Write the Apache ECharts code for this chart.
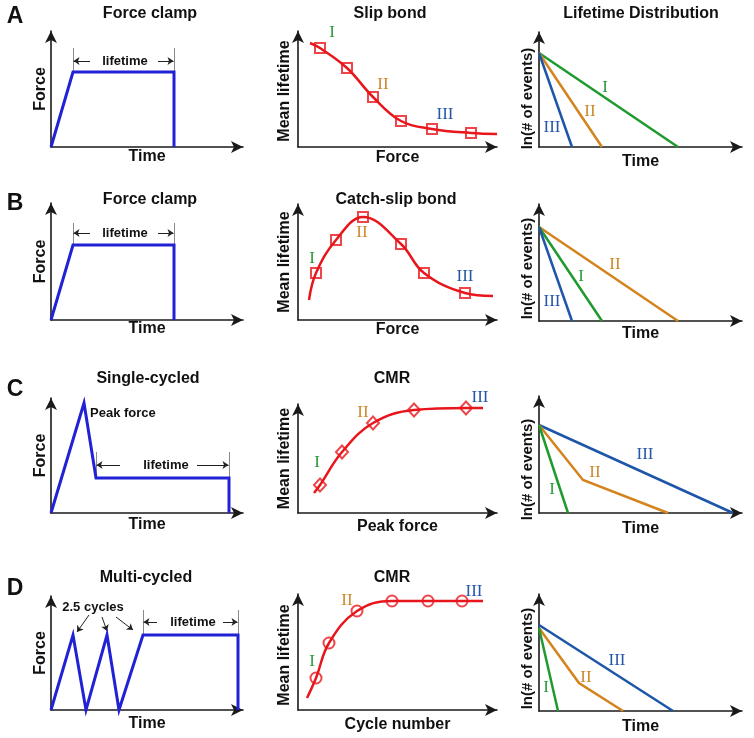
<!DOCTYPE html>
<html><head><meta charset="utf-8">
<script src="https://cdn.jsdelivr.net/npm/echarts@6/dist/echarts.min.js"></script>
<style>html,body{margin:0;padding:0;background:#fff}#c{width:754px;height:738px}</style>
</head><body><div id="c"></div>
<script>
// ================= DATA (schematic units) =================
// Column 1: loading protocols (time, force)
const clampTrace = [[0,0],[22,75],[123,75],[123,0]];
const singleCycleTrace = [[0,0],[33,110],[45,35],[178,35],[178,0]];
const multiCycleTrace = [[0,0],[22,75],[35,0],[56,75],[68,0],[92,75],[187,75],[187,0]];

// lifetime dimension marks per protocol: x of the two ends, plateau level, top of ticks, arrow level
const clampLifeEnds = [22, 123];
const clampLifeLevelsA = [75, 99, 86];
const clampLifeLevelsB = [75, 97, 87];
const clampLifeArrowsX = [[39, 22.5], [107, 122.5]];
const clampLifeTextX = 74;
const singleLifeEnds = [45, 178];
const singleLifeLevels = [35, 61, 48];
const singleLifeArrowsX = [[69, 45.5], [146, 177.5]];
const singleLifeTextX = 115;
const multiLifeEnds = [92, 187];
const multiLifeLevels = [75, 100, 88];
const multiLifeArrowsX = [[106, 92.5], [172, 186.5]];
const multiLifeTextX = 142;
const peakForceLabel = [39, 100, 'Peak force'];
const cyclesLabel = [42, 103, '2.5 cycles'];
const cyclesArrows = [[[38,95],[26,78]], [[51,93],[56,79]], [[65,93],[82,80]]];

// Column 2: mean lifetime curves and measured points
const slipCurve = [[12,104],[22,99],[49,79],[75,50],[103,26],[134,18],[173,14],[199,13]];
const slipMarkers = [[22,99],[49,79],[75,50],[103,26],[134,18],[173,14]];
const catchSlipCurve = [[11,20],[18,47],[38,80],[65,103],[103,76],[126,47],[167,27],[195,24]];
const catchSlipMarkers = [[18,47],[38,80],[65,103],[103,76],[126,47],[167,27]];
const cmrPeakCurve = [[16,20],[22,28],[44,61],[75,90],[116,103],[168,105],[185,105]];
const cmrPeakMarkers = [[22,28],[44,61],[75,90],[116,103],[168,105]];
const cmrCycleCurve = [[9,12],[18,32],[31,67],[59,99],[94,109],[130,109],[164,109],[185,109]];
const cmrCycleMarkers = [[18,32],[31,67],[59,99],[94,109],[130,109],[164,109]];
const romanA2 = [[34,114,'I'],[85,62,'II'],[147,32,'III']];
const romanB2 = [[14,61,'I'],[64,87,'II'],[167,43,'III']];
const romanC2 = [[19,50,'I'],[65,100,'II'],[182,115,'III']];
const romanD2 = [[14,48,'I'],[49,109,'II'],[176,118,'III']];

// Column 3: lifetime distributions (time, ln # events)
const distA_I = [[0,94],[139,0]];
const distA_II = [[0,94],[63,0]];
const distA_III = [[0,94],[33,0]];
const distB_I = [[0,94],[63,0]];
const distB_II = [[0,94],[139,0]];
const distB_III = [[0,94],[33,0]];
const distC_I = [[0,88],[29,0]];
const distC_II = [[0,88],[44,33],[129,0]];
const distC_III = [[0,88],[194,0]];
const distD_I = [[0,83],[19,0]];
const distD_II = [[0,83],[40,28],[84,0]];
const distD_III = [[0,86],[134,0]];
const romanA3 = [[66,59,'I'],[51,35,'II'],[13,19,'III']];
const romanB3 = [[42,44,'I'],[76,56,'II'],[13,19,'III']];
const romanC3 = [[13,23,'I'],[56,40,'II'],[106,58,'III']];
const romanD3 = [[7,23,'I'],[47,33,'II'],[78,50,'III']];

const xNames = ['Time','Force','Time','Time','Force','Time','Time','Peak force','Time','Time','Cycle number','Time'];
const yNames = ['Force','Mean lifetime','ln(# of events)','Force','Mean lifetime','ln(# of events)',
                'Force','Mean lifetime','ln(# of events)','Force','Mean lifetime','ln(# of events)'];

// ================= LAYOUT / STYLE =================
const P = [ // [originX, originY, arrowTipX, arrowTipY]
  [51,147,249,25],[298,147,503,25],[539,147,748,26],
  [51,320,249,197],[298,320,503,198],[539,321,748,198],
  [51,513,249,392],[298,513,503,398],[539,513,748,390],
  [51,710,249,590],[298,710,503,588],[539,711,748,588]];
const xGaps = [10,11,15,9,10,13,12,14,16,14,15,16];
const yGaps = [10,13,11,10,13,11,10,13,11,10,13,11];
const yShift = [0,2,9,0,0,6,0,0,15,0,3,6];
const AR = 6;
const SANS = '"Liberation Sans", Arial, sans-serif';
const SERIF = '"Liberation Serif", "Times New Roman", serif';
const C = {trace:'#2121d6', red:'#e8161c', green:'#1f9a2e', orange:'#d4831d', blue:'#1d56a8',
           lgreen:'#2a9a3a', lorange:'#cc8a2a', lblue:'#2758a5', ink:'#111'};
const romanColor = {I:C.lgreen, II:C.lorange, III:C.lblue};

const grids = [], xAxes = [], yAxes = [];
P.forEach((p, i) => {
  const [ox, oy, tx, ty] = p;
  const w = tx - ox - AR, h = oy - ty - AR;
  grids.push({left: ox, top: ty + AR, width: w, height: h});
  const axisLine = {show: true, onZero: false, symbol: ['none','arrow'], symbolSize: [9,12],
                    lineStyle: {color: '#1a1a1a', width: 1.6}};
  const base = {fontFamily: SANS, fontWeight: 'bold', color: C.ink, align: 'center', verticalAlign: 'middle'};
  xAxes.push({gridIndex: i, type: 'value', min: 0, max: w, axisLine, axisTick: {show:false},
    axisLabel: {show:false}, splitLine: {show:false}, name: xNames[i], nameLocation: 'middle',
    nameGap: xGaps[i], nameTextStyle: Object.assign({fontSize: 16}, base)});
  yAxes.push({gridIndex: i, type: 'value', min: 0, max: h, axisLine, axisTick: {show:false},
    axisLabel: {show:false}, splitLine: {show:false}, name: yNames[i], nameLocation: 'middle',
    nameGap: yGaps[i], nameTextStyle: Object.assign({fontSize: i % 3 === 2 ? 15 : 16,
      padding: [0, 2 * yShift[i], 0, 0]}, base)});
});

const series = [];
function line(i, data, color, width, smooth) {
  series.push({type: 'line', xAxisIndex: i, yAxisIndex: i, data, symbol: 'none', silent: true,
    smooth: smooth || false, clip: false,
    lineStyle: {color, width, join: 'miter'}, z: 3});
}
function segs(i, list, color, width, arrow) {
  series.push({type: 'lines', coordinateSystem: 'cartesian2d', xAxisIndex: i, yAxisIndex: i, silent: true,
    data: list.map(c => ({coords: c})), symbol: arrow ? ['none','arrow'] : 'none', symbolSize: 6,
    lineStyle: {color, width, opacity: 1}, z: 2});
}
function texts(i, items, opts) {
  series.push({type: 'scatter', xAxisIndex: i, yAxisIndex: i, silent: true, clip: false, symbolSize: 1,
    itemStyle: {color: 'rgba(0,0,0,0)'},
    data: items.map(d => ({value: [d[0], d[1]], name: d[2],
      label: opts.roman ? {color: romanColor[d[2]]} : {}})),
    label: {show: true, position: 'inside', formatter: '{b}', color: opts.color || C.ink, opacity: 1,
      textBorderWidth: 0, fontFamily: opts.family || SANS, fontSize: opts.size || 13,
      fontWeight: opts.weight || 'normal', align: opts.align || 'center', verticalAlign: 'middle'}, z: 6});
}
function markers(i, data, symbol, size) {
  series.push({type: 'scatter', xAxisIndex: i, yAxisIndex: i, silent: true, clip: false, data, symbol,
    symbolSize: size, itemStyle: {color: 'rgba(255,255,255,0)', borderColor: C.red, borderWidth: 2}, z: 5});
}
function lifetimeDim(i, ends, levels, arrowsX, textX) {
  const [plateau, top, ay] = levels;
  segs(i, [[[ends[0], plateau], [ends[0], top]], [[ends[1], plateau], [ends[1], top]]], '#8a8a8a', 1, false);
  segs(i, arrowsX.map(a => [[a[0], ay], [a[1], ay]]), '#222', 1, true);
  texts(i, [[textX, ay, 'lifetime']], {weight: 'bold', size: 13});
}

// Row A
line(0, clampTrace, C.trace, 3);
lifetimeDim(0, clampLifeEnds, clampLifeLevelsA, clampLifeArrowsX, clampLifeTextX);
line(1, slipCurve, C.red, 2.5, 0.4); markers(1, slipMarkers, 'rect', 10);
texts(1, romanA2, {roman: true, family: SERIF, size: 17});
line(2, distA_I, C.green, 2.5); line(2, distA_II, C.orange, 2.5); line(2, distA_III, C.blue, 2.5);
texts(2, romanA3, {roman: true, family: SERIF, size: 17});
// Row B
line(3, clampTrace, C.trace, 3);
lifetimeDim(3, clampLifeEnds, clampLifeLevelsB, clampLifeArrowsX, clampLifeTextX);
line(4, catchSlipCurve, C.red, 2.5, 0.4); markers(4, catchSlipMarkers, 'rect', 10);
texts(4, romanB2, {roman: true, family: SERIF, size: 17});
line(5, distB_II, C.orange, 2.5); line(5, distB_I, C.green, 2.5); line(5, distB_III, C.blue, 2.5);
texts(5, romanB3, {roman: true, family: SERIF, size: 17});
// Row C
line(6, singleCycleTrace, C.trace, 3);
lifetimeDim(6, singleLifeEnds, singleLifeLevels, singleLifeArrowsX, singleLifeTextX);
texts(6, [peakForceLabel], {weight: 'bold', size: 13, align: 'left'});
line(7, cmrPeakCurve, C.red, 2.5, 0.4); markers(7, cmrPeakMarkers, 'diamond', [12,13]);
texts(7, romanC2, {roman: true, family: SERIF, size: 17});
line(8, distC_III, C.blue, 2.5); line(8, distC_II, C.orange, 2.5); line(8, distC_I, C.green, 2.5);
texts(8, romanC3, {roman: true, family: SERIF, size: 17});
// Row D
line(9, multiCycleTrace, C.trace, 3);
lifetimeDim(9, multiLifeEnds, multiLifeLevels, multiLifeArrowsX, multiLifeTextX);
texts(9, [cyclesLabel], {weight: 'bold', size: 13});
segs(9, cyclesArrows, '#222', 1, true);
line(10, cmrCycleCurve, C.red, 2.5, 0.4); markers(10, cmrCycleMarkers, 'circle', 11);
texts(10, romanD2, {roman: true, family: SERIF, size: 17});
line(11, distD_III, C.blue, 2.5); line(11, distD_II, C.orange, 2.5); line(11, distD_I, C.green, 2.5);
texts(11, romanD3, {roman: true, family: SERIF, size: 17});

// Titles and panel letters
const titles = [
  ['Force clamp',150,14,16],['Slip bond',390,14,16],['Lifetime Distribution',641,14,16],
  ['Force clamp',150,200,16],['Catch-slip bond',396,200,16],
  ['Single-cycled',148,379,16],['CMR',392,379,16],
  ['Multi-cycled',146,578,16],['CMR',392,578,16],
  ['A',15,17,23],['B',15,204,23],['C',15,390,23],['D',15,589,23]];
const graphic = titles.map(t => ({type: 'text', x: t[1], y: t[2], silent: true,
  style: {text: t[0], font: 'bold ' + t[3] + 'px ' + SANS, fill: C.ink,
    align: 'center', verticalAlign: 'middle', textAlign: 'center', textVerticalAlign: 'middle'}}));

const chart = echarts.init(document.getElementById('c'), null, {renderer: 'canvas'});
chart.setOption({animation: false, backgroundColor: '#fff', grid: grids, xAxis: xAxes, yAxis: yAxes,
  series, graphic});
</script></body></html>
